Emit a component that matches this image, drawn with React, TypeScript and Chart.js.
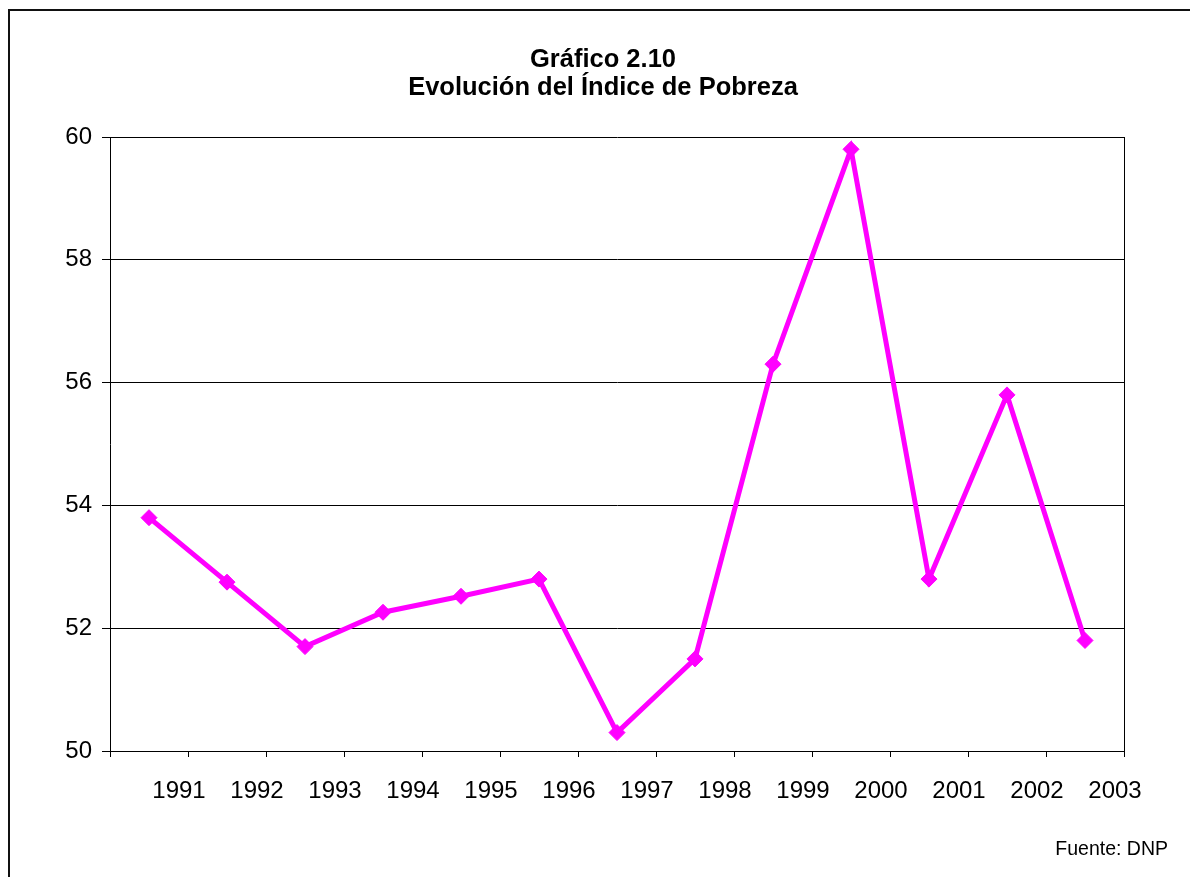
import React, { useEffect, useRef } from "react";
import { Chart, registerables } from "chart.js";

Chart.register(...registerables);

const years = ["1991", "1992", "1993", "1994", "1995", "1996", "1997", "1998", "1999", "2000", "2001", "2002", "2003"];
const povertyIndex = [53.8, 52.75, 51.7, 52.26, 52.52, 52.8, 50.3, 51.5, 56.3, 59.8, 52.8, 55.8, 51.8];
const yMin = 50;
const yMax = 60;
const yStep = 2;

const titleLines = ["Gráfico 2.10", "Evolución del Índice de Pobreza"];
const sourceNote = "Fuente: DNP";

const FONT = "'Liberation Sans', Arial, Helvetica, sans-serif";

const plotFrame = {
  id: "plotFrame",
  beforeDatasetsDraw(chart: any) {
    const { ctx, chartArea } = chart;
    const { top, right, bottom } = chartArea;
    ctx.save();
    ctx.strokeStyle = "#000";
    ctx.lineWidth = 1;
    ctx.beginPath();
    const x = Math.round(right) + 0.5;
    ctx.moveTo(x, top);
    ctx.lineTo(x, bottom);
    ctx.stroke();
    ctx.restore();
  },
};

export default function App() {
  const canvasRef = useRef<HTMLCanvasElement | null>(null);

  useEffect(() => {
    if (!canvasRef.current) return;
    const chart = new Chart(canvasRef.current, {
      type: "line",
      data: {
        labels: years,
        datasets: [
          {
            data: povertyIndex,
            borderColor: "#FF00FF",
            backgroundColor: "#FF00FF",
            borderWidth: 5,
            pointStyle: "rectRot",
            pointRadius: 8,
            pointBorderWidth: 1,
            pointBackgroundColor: "#FF00FF",
            pointBorderColor: "#FF00FF",
            tension: 0,
            fill: false,
          },
        ],
      },
      options: {
        responsive: false,
        animation: false,
        devicePixelRatio: 1,
        layout: { padding: { left: 10, right: 66, top: 137, bottom: 46 } },
        plugins: {
          legend: { display: false },
          title: { display: false },
          tooltip: { enabled: false },
        },
        scales: {
          x: {
            type: "category",
            offset: true,
            afterFit(scale: any) {
              scale.height = 80;
            },
            grid: {
              offset: true,
              drawOnChartArea: false,
              drawTicks: true,
              tickLength: 6,
              color: "#000",
              lineWidth: 1,
            },
            border: { display: true, color: "#000", width: 1 },
            ticks: {
              color: "#000",
              font: { family: FONT, size: 24 },
              padding: 20,
              labelOffset: 30,
              maxRotation: 0,
              autoSkip: false,
            },
          },
          y: {
            min: yMin,
            max: yMax,
            afterFit(scale: any) {
              scale.width = 100;
            },
            grid: {
              color: "#000",
              lineWidth: 1,
              drawTicks: true,
              tickLength: 8,
            },
            border: { display: true, color: "#000", width: 1 },
            ticks: {
              stepSize: yStep,
              color: "#000",
              font: { family: FONT, size: 24 },
              padding: 10,
            },
          },
        },
      },
      plugins: [plotFrame],
    });
    return () => chart.destroy();
  }, []);

  return (
    <div style={{ position: "fixed", left: 0, top: 0, width: 1190, height: 877, overflow: "hidden", background: "#fff" }}>
      <div
        style={{
          position: "absolute",
          left: 8,
          top: 9,
          width: 1300,
          height: 1000,
          borderLeft: "2px solid #111",
          borderTop: "2px solid #111",
          boxSizing: "border-box",
        }}
      />
      <canvas ref={canvasRef} width={1190} height={877} style={{ position: "absolute", left: 0, top: 0 }} />
      <div
        style={{
          position: "absolute",
          left: 0,
          top: 44,
          width: 1206,
          textAlign: "center",
          fontFamily: FONT,
          fontWeight: "bold",
          fontSize: 25.5,
          lineHeight: "28px",
          color: "#000",
        }}
      >
        {titleLines.map((t) => (
          <div key={t}>{t}</div>
        ))}
      </div>
      <div
        style={{
          position: "absolute",
          left: 0,
          top: 839,
          width: 1168,
          textAlign: "right",
          fontFamily: FONT,
          fontSize: 19.5,
          lineHeight: "19px",
          color: "#000",
        }}
      >
        {sourceNote}
      </div>
    </div>
  );
}
